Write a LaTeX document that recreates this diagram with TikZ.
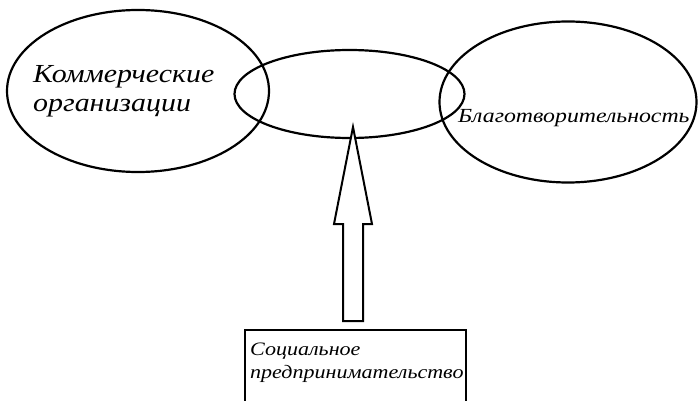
\documentclass[tikz,border=0pt]{standalone}
\usepackage{fontspec}
\usepackage{graphicx}
\setmainfont{Liberation Serif}
\usetikzlibrary{shapes.geometric,calc}
\tikzset{
  oval/.style={draw, ellipse, line width=2.2pt, inner sep=0pt},
  lbl/.style={inner sep=0pt, anchor=base west},
  blockarrow/.style={draw, line width=2pt, line join=miter, fill=white},
  boxstyle/.style={draw, line width=1.5pt}
}
\newcommand{\wtext}[3]{\scalebox{#1}[1]{\fontsize{#2}{#2}\selectfont\itshape #3}}
\begin{document}
\begin{tikzpicture}[x=1pt,y=-1pt]
\useasboundingbox[fill=white] (0,0) rectangle (699,401);
\node[oval, minimum width=262pt, minimum height=162pt] (left) at (138,91) {};
\node[oval, minimum width=230pt, minimum height=88pt] (mid) at (349.5,94) {};
\node[oval, minimum width=257pt, minimum height=161pt] (right) at (568,102) {};
\node[lbl] (lt1) at (33,83) {\wtext{1.15}{26}{Коммерческие}};
\node[lbl] (lt2) at (33,112) {\wtext{1.15}{26}{организации}};
\node[lbl] (rt) at (458,123) {\wtext{1.19}{20}{Благотворительность}};
\node[boxstyle, minimum width=221pt, minimum height=80pt, anchor=north west, inner sep=0pt] (box) at (244,329) {};
\node[lbl] (bt1) at (250,355) {\wtext{1.16}{19}{Социальное}};
\node[lbl] (bt2) at (250,378) {\wtext{1.16}{19}{предпринимательство}};
\coordinate (tip) at (353,127);
\coordinate (base) at (353,321);
\draw[blockarrow] (base) ++(-10,0) -- ++(0,-97) -- ++(-9,0) -- (tip) -- ($(base)+(19,-97)$) -- ++(-9,0) -- ++(0,97) -- cycle;
\end{tikzpicture}
\end{document}
